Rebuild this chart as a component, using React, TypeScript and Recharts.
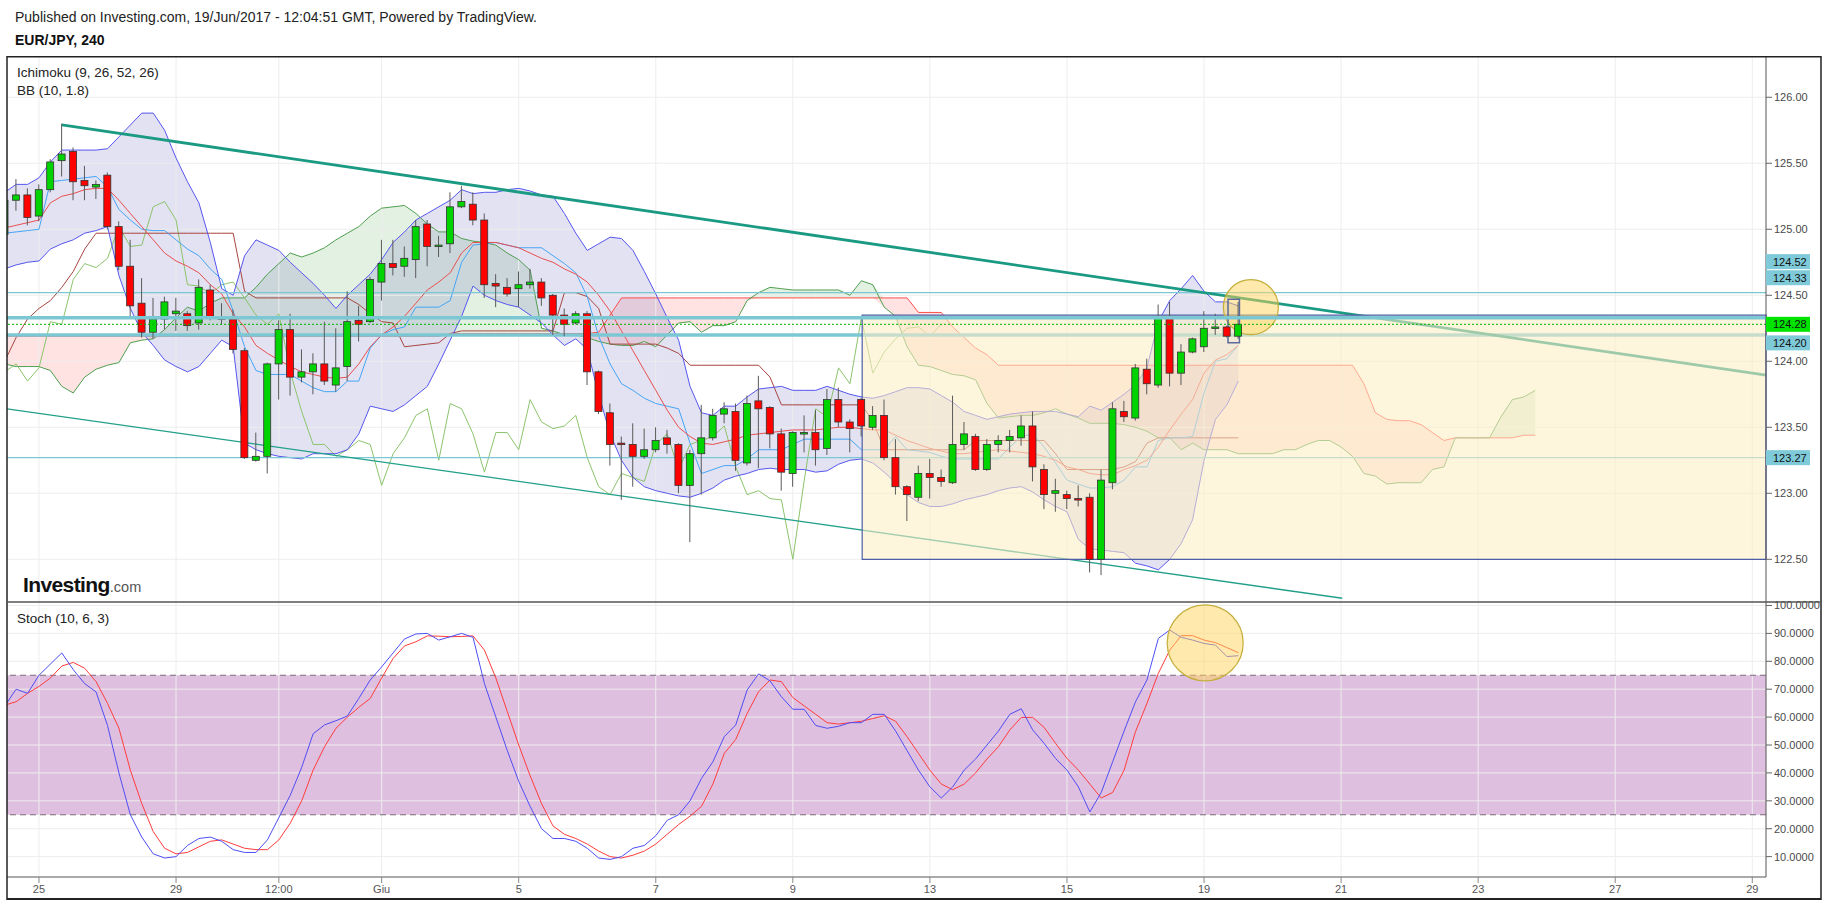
import React from 'react';
import {
  ComposedChart,
  Line,
  Area,
  Bar,
  XAxis,
  YAxis,
  ReferenceLine,
  ReferenceArea,
  ReferenceDot,
} from 'recharts';

// EUR/JPY, 240 — bar -3 = 24/05 12:00, bar 0 = 25/05 00:00, bar 105 = 19/06 12:00
const FIRST_BAR = -3;
const LAST_CLOUD_BAR = 131;

const opens = [
  124.96, 125.22, 125.26, 125.10, 125.30, 125.52, 125.59, 125.37, 125.32, 125.41,
  125.02, 124.72, 124.44, 124.22, 124.32, 124.36, 124.36, 124.29, 124.54, 124.33,
  124.32, 124.08, 123.25, 123.28, 123.98, 124.24, 123.88, 123.92, 123.98, 123.82,
  123.96, 124.31, 124.30, 124.60, 124.74, 124.72, 124.77, 125.04, 124.87, 124.89,
  125.17, 125.19, 125.07, 124.59, 124.56, 124.55, 124.58, 124.60, 124.50, 124.35,
  124.29, 124.36, 123.92, 123.61, 123.38, 123.37, 123.28, 123.33, 123.42, 123.37,
  123.06, 123.30, 123.42, 123.60, 123.62, 123.23, 123.70, 123.65, 123.45, 123.15,
  123.45, 123.46, 123.34, 123.71, 123.54, 123.71, 123.50, 123.59, 123.27, 123.05,
  122.97, 123.15, 123.12, 123.08, 123.37, 123.43, 123.18, 123.37, 123.40, 123.42,
  123.51, 123.18, 123.00, 122.99, 122.96, 122.97, 122.50, 123.08, 123.62, 123.57,
  123.94, 123.82, 124.33, 123.91, 124.07, 124.11, 124.25, 124.26, 124.19,
];
const highs = [
  125.25, 125.38, 125.31, 125.34, 125.53, 125.80, 125.62, 125.48, 125.37, 125.43,
  125.06, 124.92, 124.63, 124.48, 124.49, 124.48, 124.38, 124.62, 124.58, 124.44,
  124.39, 124.10, 123.46, 123.99, 124.31, 124.36, 124.09, 124.06, 124.30, 124.25,
  124.53, 124.42, 124.64, 124.92, 124.92, 124.87, 125.07, 125.07, 124.95, 125.28,
  125.33, 125.28, 125.12, 124.66, 124.63, 124.68, 124.70, 124.63, 124.51, 124.40,
  124.38, 124.38, 123.93, 123.68, 123.43, 123.53, 123.49, 123.50, 123.48, 123.38,
  123.33, 123.67, 123.64, 123.69, 123.68, 123.74, 123.89, 123.66, 123.49, 123.47,
  123.59, 123.63, 123.79, 123.80, 123.56, 123.72, 123.66, 123.71, 123.41, 123.06,
  123.21, 123.26, 123.18, 123.74, 123.54, 123.45, 123.41, 123.44, 123.48, 123.59,
  123.62, 123.22, 123.11, 123.02, 123.06, 123.00, 123.18, 123.69, 123.70, 123.98,
  124.02, 124.43, 124.45, 124.13, 124.18, 124.38, 124.36, 124.27, 124.45,
];
const lows = [
  124.93, 125.14, 125.03, 125.06, 125.28, 125.40, 125.22, 125.22, 125.23, 125.00,
  124.69, 124.34, 124.18, 124.17, 124.24, 124.23, 124.23, 124.24, 124.31, 124.28,
  124.06, 123.26, 123.24, 123.15, 123.71, 123.74, 123.84, 123.75, 123.82, 123.77,
  123.85, 124.15, 124.29, 124.46, 124.65, 124.64, 124.63, 124.72, 124.79, 124.82,
  125.16, 125.03, 124.48, 124.41, 124.49, 124.41, 124.55, 124.42, 124.20, 124.19,
  124.28, 123.82, 123.60, 123.21, 122.95, 123.05, 123.26, 123.31, 123.30, 123.00,
  122.63, 122.99, 123.40, 123.53, 123.17, 123.21, 123.19, 123.34, 123.02, 123.05,
  123.31, 123.21, 123.29, 123.50, 123.31, 123.43, 123.48, 123.25, 122.99, 122.79,
  122.94, 122.96, 123.05, 123.07, 123.33, 123.17, 123.17, 123.31, 123.31, 123.36,
  123.09, 122.88, 122.86, 122.88, 122.90, 122.40, 122.38, 123.03, 123.54, 123.55,
  123.75, 123.80, 123.81, 123.82, 124.06, 124.07, 124.20, 124.18, 124.17,
];
const closes = [
  125.22, 125.26, 125.09, 125.30, 125.51, 125.57, 125.36, 125.33, 125.34, 125.02,
  124.72, 124.42, 124.22, 124.32, 124.45, 124.38, 124.27, 124.56, 124.33, 124.32,
  124.09, 123.27, 123.28, 123.98, 124.24, 123.88, 123.92, 123.98, 123.85, 123.95,
  124.30, 124.28, 124.62, 124.74, 124.71, 124.78, 125.02, 124.87, 124.88, 125.17,
  125.21, 125.07, 124.58, 124.57, 124.51, 124.58, 124.60, 124.48, 124.35, 124.28,
  124.36, 123.92, 123.62, 123.37, 123.37, 123.28, 123.33, 123.40, 123.37, 123.06,
  123.30, 123.42, 123.59, 123.64, 123.25, 123.68, 123.64, 123.45, 123.16, 123.46,
  123.46, 123.33, 123.71, 123.54, 123.49, 123.51, 123.59, 123.27, 123.05, 122.99,
  123.15, 123.12, 123.09, 123.37, 123.45, 123.18, 123.37, 123.40, 123.43, 123.51,
  123.20, 122.99, 123.02, 122.96, 122.95, 122.50, 123.10, 123.64, 123.58, 123.95,
  123.83, 124.33, 123.91, 124.07, 124.17, 124.25, 124.26, 124.19, 124.28,
];

// BB (10, 1.8)
const bbUpper = [
  125.28, 125.34, 125.34, 125.39, 125.51, 125.60, 125.60, 125.60, 125.60, 125.61,
  125.70, 125.79, 125.88, 125.88, 125.75, 125.54, 125.36, 125.20, 124.90, 124.55,
  124.50, 124.80, 124.92, 124.88, 124.84, 124.75, 124.67, 124.59, 124.50, 124.40,
  124.50, 124.58, 124.66, 124.77, 124.90, 124.98, 125.07, 125.12, 125.17, 125.22,
  125.30, 125.27, 125.28, 125.28, 125.30, 125.31, 125.29, 125.26, 125.25, 125.12,
  124.97, 124.84, 124.89, 124.94, 124.93, 124.84, 124.68, 124.51, 124.33, 124.16,
  123.81, 123.61, 123.59, 123.66, 123.66, 123.73, 123.79, 123.80, 123.81, 123.78,
  123.78, 123.78, 123.81, 123.78, 123.75, 123.73, 123.72, 123.74, 123.77, 123.80,
  123.80, 123.79, 123.74, 123.69, 123.62, 123.59, 123.56, 123.58, 123.60, 123.61,
  123.62, 123.62, 123.62, 123.60, 123.58, 123.66, 123.63, 123.69, 123.75, 123.82,
  123.95, 124.30, 124.46, 124.55, 124.65, 124.53, 124.45, 124.45, 124.42,
];
const bbLower = [
  124.70, 124.73, 124.75, 124.76, 124.85, 124.89, 124.92, 124.97, 124.99, 125.02,
  124.65, 124.40, 124.22, 124.12, 124.01, 123.96, 123.92, 123.96, 124.06, 124.16,
  124.11, 123.38, 123.33, 123.30, 123.28, 123.27, 123.26, 123.30, 123.30, 123.30,
  123.33, 123.45, 123.66, 123.64, 123.62, 123.67, 123.74, 123.81, 123.98, 124.16,
  124.34, 124.57, 124.50, 124.46, 124.43, 124.41, 124.35, 124.29, 124.20, 124.12,
  124.17, 124.09, 123.75, 123.45, 123.25, 123.12, 123.05, 123.02, 123.00, 122.98,
  122.97, 123.00, 123.04, 123.10, 123.13, 123.15, 123.18, 123.19, 123.18, 123.18,
  123.18, 123.16, 123.17, 123.22, 123.25, 123.26, 123.23, 123.16, 123.08, 122.99,
  122.93, 122.90, 122.90, 122.92, 122.95, 122.97, 122.99, 123.02, 123.04, 123.05,
  123.01, 122.95, 122.90, 122.86, 122.65, 122.58, 122.57, 122.56, 122.55, 122.47,
  122.45, 122.42, 122.50, 122.62, 122.80, 123.25, 123.56, 123.67, 123.85,
];
const bbBasis = [
  125.01, 125.03, 125.05, 125.07, 125.20, 125.25, 125.27, 125.30, 125.31, 125.31,
  125.22, 125.12, 125.02, 124.92, 124.82, 124.76, 124.72, 124.67, 124.58, 124.51,
  124.36, 124.26, 124.12, 124.06, 124.01, 123.96, 123.92, 123.90, 123.88, 123.87,
  123.88, 123.98, 124.11, 124.20, 124.26, 124.34, 124.44, 124.54, 124.60, 124.67,
  124.82, 124.90, 124.90, 124.90, 124.88, 124.86, 124.82, 124.78, 124.75, 124.70,
  124.66, 124.60, 124.50, 124.38, 124.23, 124.08, 123.93, 123.78, 123.63, 123.50,
  123.43, 123.38, 123.37, 123.39, 123.41, 123.44, 123.45, 123.46, 123.47, 123.48,
  123.48, 123.48, 123.49, 123.50, 123.50, 123.49, 123.48, 123.48, 123.44, 123.40,
  123.37, 123.34, 123.32, 123.30, 123.30, 123.31, 123.32, 123.33, 123.32, 123.31,
  123.30, 123.28, 123.25, 123.20, 123.18, 123.15, 123.14, 123.14, 123.18, 123.21,
  123.25, 123.35, 123.48, 123.60, 123.71, 123.91, 124.01, 124.05, 124.12,
];

// Ichimoku (9, 26, 52, 26)
const tenkan = [
  124.97, 124.98, 124.99, 125.00, 125.36, 125.37, 125.38, 125.39, 125.40, 125.32,
  125.15, 125.07, 125.00, 124.99, 124.99, 124.92, 124.85, 124.80, 124.70, 124.62,
  124.38, 124.11, 123.93, 123.90, 123.90, 123.90, 123.85, 123.80, 123.77, 123.77,
  123.85, 123.85, 124.10, 124.20, 124.24, 124.26, 124.41, 124.41, 124.41, 124.46,
  124.75, 124.88, 124.89, 124.90, 124.88, 124.86, 124.86, 124.86, 124.80, 124.74,
  124.67, 124.49, 124.19, 123.98, 123.83, 123.78, 123.72, 123.68, 123.66, 123.64,
  123.38, 123.15, 123.18, 123.21, 123.21, 123.26, 123.33, 123.33, 123.33, 123.37,
  123.41, 123.41, 123.41, 123.41, 123.41, 123.33, 123.33, 123.33, 123.43, 123.33,
  123.32, 123.31, 123.28, 123.26, 123.26, 123.26, 123.26, 123.26, 123.35, 123.43,
  123.45, 123.35, 123.23, 123.10, 123.07, 123.04, 123.04, 123.05, 123.10, 123.20,
  123.20, 123.40, 123.42, 123.42, 123.43, 123.76, 124.00, 124.02, 124.12,
];
const kijun = [
  124.00, 124.18, 124.32, 124.40, 124.46, 124.56, 124.68, 124.85, 124.97, 124.97,
  124.97, 124.97, 124.97, 124.97, 124.97, 124.97, 124.97, 124.97, 124.97, 124.97,
  124.97, 124.53, 124.48, 124.48, 124.48, 124.48, 124.48, 124.48, 124.48, 124.48,
  124.48, 124.43, 124.36, 124.30, 124.29, 124.11, 124.12, 124.13, 124.14, 124.21,
  124.23, 124.23, 124.23, 124.23, 124.23, 124.23, 124.23, 124.23, 124.23, 124.52,
  124.52, 124.49, 124.40, 124.13, 124.13, 124.13, 124.13, 124.13, 124.10, 124.06,
  123.97, 123.97, 123.97, 123.97, 123.97, 123.97, 123.97, 123.88, 123.67, 123.67,
  123.67, 123.67, 123.67, 123.67, 123.67, 123.67, 123.55, 123.33, 123.33, 123.33,
  123.33, 123.33, 123.33, 123.33, 123.33, 123.40, 123.40, 123.40, 123.40, 123.40,
  123.40, 123.40, 123.30, 123.18, 123.18, 123.18, 123.18, 123.18, 123.20, 123.24,
  123.38, 123.42, 123.42, 123.42, 123.42, 123.42, 123.42, 123.42, 123.42,
];
// lagging span, drawn from bar -3 to bar 79
const chikou = [
  123.92, 123.98, 123.85, 123.95, 124.30, 124.28, 124.62, 124.74, 124.71, 124.78,
  125.02, 124.87, 124.88, 125.17, 125.21, 125.07, 124.58, 124.57, 124.51, 124.58,
  124.60, 124.48, 124.35, 124.28, 124.36, 123.92, 123.62, 123.37, 123.37, 123.28,
  123.33, 123.40, 123.37, 123.06, 123.30, 123.42, 123.59, 123.64, 123.25, 123.68,
  123.64, 123.45, 123.16, 123.46, 123.46, 123.33, 123.71, 123.54, 123.49, 123.51,
  123.59, 123.27, 123.05, 122.99, 123.15, 123.12, 123.09, 123.37, 123.45, 123.18,
  123.37, 123.40, 123.43, 123.51, 123.20, 122.99, 123.02, 122.96, 122.95, 122.50,
  123.10, 123.64, 123.58, 123.95, 123.83, 124.33, 123.91, 124.07, 124.17, 124.25,
  124.26, 124.19, 124.28,
];
// leading spans, drawn from bar -3 to bar 131
const senkouA = [
  123.98, 123.96, 123.96, 123.96, 123.93, 123.81, 123.76, 123.88, 123.94, 123.97,
  123.99, 124.14, 124.16, 124.17, 124.24, 124.33, 124.41, 124.38, 124.44, 124.48,
  124.48, 124.48, 124.56, 124.66, 124.74, 124.82, 124.79, 124.82, 124.86, 124.92,
  124.97, 125.02, 125.10, 125.16, 125.17, 125.18, 125.12, 125.04, 124.98, 124.98,
  124.93, 124.91, 124.90, 124.88, 124.82, 124.77, 124.69, 124.25, 124.23, 124.20,
  124.20, 124.18, 124.15, 124.13, 124.12, 124.12, 124.15, 124.11, 124.20, 124.29,
  124.30, 124.22, 124.27, 124.27, 124.30, 124.46, 124.52, 124.56, 124.55, 124.54,
  124.54, 124.54, 124.54, 124.54, 124.50, 124.61, 124.58, 124.41, 124.34, 124.11,
  123.97, 123.96, 123.93, 123.90, 123.89, 123.86, 123.68, 123.57, 123.58, 123.59,
  123.59, 123.61, 123.64, 123.60, 123.57, 123.53, 123.53, 123.53, 123.52, 123.50,
  123.47, 123.42, 123.42, 123.33, 123.38, 123.33, 123.33, 123.33, 123.30, 123.30,
  123.30, 123.30, 123.33, 123.33, 123.37, 123.40, 123.40, 123.35, 123.28, 123.15,
  123.13, 123.07, 123.08, 123.08, 123.08, 123.18, 123.20, 123.42, 123.42, 123.42,
  123.42, 123.58, 123.71, 123.73, 123.78,
];
const senkouB = [
  124.19, 124.19, 124.19, 124.19, 124.19, 124.19, 124.19, 124.19, 124.19, 124.19,
  124.19, 124.19, 124.19, 124.19, 124.19, 124.19, 124.19, 124.19, 124.19, 124.19,
  124.19, 124.19, 124.19, 124.19, 124.19, 124.19, 124.19, 124.19, 124.19, 124.19,
  124.19, 124.19, 124.19, 124.19, 124.19, 124.19, 124.19, 124.19, 124.19, 124.21,
  124.21, 124.21, 124.21, 124.21, 124.21, 124.21, 124.21, 124.21, 124.21, 124.21,
  124.21, 124.21, 124.22, 124.35, 124.48, 124.48, 124.48, 124.48, 124.48, 124.48,
  124.48, 124.48, 124.48, 124.48, 124.48, 124.48, 124.48, 124.48, 124.48, 124.48,
  124.48, 124.48, 124.48, 124.48, 124.48, 124.48, 124.48, 124.48, 124.48, 124.48,
  124.37, 124.37, 124.37, 124.26, 124.18, 124.10, 124.05, 123.97, 123.97, 123.97,
  123.97, 123.97, 123.97, 123.97, 123.97, 123.97, 123.97, 123.97, 123.97, 123.97,
  123.97, 123.97, 123.97, 123.97, 123.97, 123.97, 123.97, 123.97, 123.97, 123.97,
  123.97, 123.97, 123.97, 123.97, 123.97, 123.97, 123.97, 123.97, 123.97, 123.83,
  123.61, 123.56, 123.55, 123.55, 123.52, 123.46, 123.40, 123.42, 123.42, 123.42,
  123.42, 123.42, 123.42, 123.44, 123.44,
];

// Stoch (10, 6, 3)
const stochK = [
  64, 70, 68.5, 75, 79, 83, 77, 72, 69, 57,
  40, 25, 17, 11, 9.5, 10, 14, 16.5, 17, 15.5,
  12.5, 11.5, 11.5, 16, 24, 32, 42, 54, 57.2, 58.7,
  60.4, 66.7, 73.3, 78, 83, 88, 89.8, 90, 87.6, 88.8,
  90, 88.6, 72, 60, 48, 37, 28, 20, 16.5, 16.5,
  15.5, 13, 9.5, 9, 10, 13, 14, 17.5, 23, 25,
  30, 38, 44, 53, 57.2, 69.7, 75.5, 73, 67.3, 62.8,
  62.8, 57, 56, 56.7, 58, 58, 61, 61, 55, 48,
  41, 35, 31, 35, 41, 45, 50, 55, 61, 63,
  55.4, 50.6, 45.2, 41, 35, 26, 33, 44, 55, 65.5,
  73.3, 88.2, 91.2, 88.6, 87.6, 86.4, 85.8, 81.7, 82,
];
const stochD = [
  64.3, 65.5, 68.5, 71, 74, 78.3, 79.6, 77.5, 72.7, 64.9,
  56, 41, 29, 19, 13, 11, 11.5, 13.5, 15.5, 16,
  14.5, 13, 12.5, 12.5, 16, 22, 30, 41, 49.4, 56,
  60, 63.5, 66.7, 74, 81, 85.5, 87, 89.1, 89, 88.8,
  88.9, 89.1, 84, 74, 62, 50, 39, 29, 21, 18,
  16.5, 14.5, 12, 10, 9.5, 10.5, 12, 14.5, 18, 21.5,
  24.5, 28, 36, 47, 52, 61.3, 69.1, 73.3, 72.7, 67,
  64, 61, 58, 57.5, 58, 58.5, 59.5, 60.5, 58.5, 53,
  47, 41, 36, 34, 36, 40, 45, 49.4, 55.4, 59.9,
  59.9, 56.3, 50.6, 45.2, 41, 36, 31, 33, 41, 54.8,
  64.9, 75.7, 84, 89.2, 89.2, 87.6, 86.7, 84.9, 83.1,
];

const xTickBars = [0, 12, 21, 30, 42, 54, 66, 78, 90, 102, 114, 126, 138, 150];
const xTickLabels = ['25', '29', '12:00', 'Giu', '5', '7', '9', '13', '15', '19', '21', '23', '27', '29'];
const priceTicks = [122.5, 123, 123.5, 124, 124.5, 125, 125.5, 126];
const stochTicks = [10, 20, 30, 40, 50, 60, 70, 80, 90, 100];

// drawings
const supportLevels = [124.52, 124.2, 123.27];
const resistanceLevel = 124.33;
const lastPrice = 124.28;
const upperTrend = [{ x: 2, y: 125.79 }, { x: 151.2, y: 123.895 }];
const lowerTrend = [{ x: -2.8, y: 123.64 }, { x: 114.1, y: 122.205 }];
const boxBars = [72.07, 151.2];
const boxPrices = [122.5, 124.35];
const markBars = [104.1, 105.1];
const markPrices = [124.14, 124.47];
const priceCircle = { x: 106.1, y: 124.41 };
const stochCircle = { x: 102.1, y: 86.6 };

const tagPrices = [124.52, 124.33, 124.28, 124.2, 123.27];
const tagColors = ['#7fcad8', '#7fcad8', '#00e400', '#7fcad8', '#7fcad8'];
const tagShift = [-31, -40, 0, 8, 0];

const X_DOMAIN: [number, number] = [-2.8, 151.2];
const PRICE_DOMAIN: [number, number] = [122.1765, 126.305];
const STOCH_DOMAIN: [number, number] = [2.7, 101.25];

const FONT = '"Liberation Sans", Arial, Helvetica, sans-serif';
const CHART_W = 1814;
const AXIS_W = 55;
const PRICE_H = 545;
const STOCH_PAD = 10;
const STOCH_H = 297 + STOCH_PAD;

const rows: any[] = [];
for (let k = 0; k <= LAST_CLOUD_BAR - FIRST_BAR; k++) {
  const bar = k < opens.length;
  const a = senkouA[k];
  const b = senkouB[k];
  rows.push({
    i: k + FIRST_BAR,
    open: bar ? opens[k] : null,
    high: bar ? highs[k] : null,
    low: bar ? lows[k] : null,
    close: bar ? closes[k] : null,
    hl: bar ? [lows[k], highs[k]] : null,
    bbU: bar ? bbUpper[k] : null,
    bbL: bar ? bbLower[k] : null,
    bbM: bar ? bbBasis[k] : null,
    bbBand: bar ? [bbLower[k], bbUpper[k]] : null,
    tenkan: bar ? tenkan[k] : null,
    kijun: bar ? kijun[k] : null,
    chikou: k < chikou.length ? chikou[k] : null,
    sa: a,
    sb: b,
    cloudUp: [b, Math.max(a, b)],
    cloudDown: [Math.min(a, b), b],
    k: bar ? stochK[k] : null,
    d: bar ? stochD[k] : null,
  });
}

const Candle = (props: any) => {
  const { x, y, width, height, payload } = props;
  if (!payload || payload.open == null) return null;
  const { open, close, high, low } = payload;
  const top = Math.min(y, y + height);
  const bottom = Math.max(y, y + height);
  const k = (bottom - top) / (high - low);
  const yOf = (p: number) => top + (high - p) * k;
  const cx = x + width / 2;
  const bTop = yOf(Math.max(open, close));
  const bBot = yOf(Math.min(open, close));
  const up = close > open;
  return (
    <g>
      <line x1={cx} x2={cx} y1={top} y2={bottom} stroke="#5a5a5a" strokeWidth={1} />
      <rect
        x={cx - 3.5}
        y={bTop}
        width={7}
        height={Math.max(1.5, bBot - bTop)}
        fill={up ? '#00d400' : '#ff0000'}
        stroke="#333"
        strokeWidth={0.8}
      />
    </g>
  );
};

const Tag = (props: any) => {
  const { cx, cy, text, bg, shift } = props;
  const y = cy + shift;
  return (
    <g>
      <rect x={cx} y={y - 7.5} width={44} height={15} fill={bg} />
      <text x={cx + 7} y={y + 4} fontSize={11} fontFamily={FONT} fill="#111">
        {text}
      </text>
    </g>
  );
};

const priceAxes = (show: boolean) => [
  <XAxis key="px" type="number" dataKey="i" domain={X_DOMAIN} allowDataOverflow hide />,
  <YAxis
    key="py"
    type="number"
    orientation="right"
    width={AXIS_W}
    domain={PRICE_DOMAIN}
    allowDataOverflow
    ticks={priceTicks}
    interval={0}
    tick={show ? { fontSize: 11, fill: '#4a4a4a', fontFamily: FONT } : false}
    tickLine={show ? { stroke: '#666' } : false}
    axisLine={show ? { stroke: '#555' } : false}
    tickFormatter={(v: number) => v.toFixed(2)}
  />,
];

const stochAxes = (show: boolean) => [
  <XAxis
    key="sx"
    type="number"
    dataKey="i"
    domain={X_DOMAIN}
    allowDataOverflow
    height={22}
    ticks={xTickBars}
    interval={0}
    tick={show ? { fontSize: 11, fill: '#555', fontFamily: FONT } : false}
    tickLine={show ? { stroke: '#888' } : false}
    axisLine={show ? { stroke: '#555' } : false}
    tickFormatter={(v: number) => xTickLabels[xTickBars.indexOf(v)] ?? ''}
  />,
  <YAxis
    key="sy"
    type="number"
    orientation="right"
    width={AXIS_W}
    domain={STOCH_DOMAIN}
    allowDataOverflow
    ticks={stochTicks}
    interval={0}
    tick={show ? { fontSize: 11, fill: '#4a4a4a', fontFamily: FONT } : false}
    tickLine={show ? { stroke: '#666' } : false}
    axisLine={show ? { stroke: '#555' } : false}
    tickFormatter={(v: number) => v.toFixed(4)}
  />,
];

const margin = { top: 0, right: 0, bottom: 0, left: 0 };
const stochMargin = { top: STOCH_PAD, right: 0, bottom: 0, left: 0 };
const layer = (top: number): React.CSSProperties => ({ position: 'absolute', left: 7, top });
const lineProps = { dot: false, activeDot: false, isAnimationActive: false, strokeWidth: 1 } as const;

export default function App() {
  return (
    <div style={{ position: 'absolute', left: 0, top: 0, width: 1828, height: 901, background: '#fff', fontFamily: FONT, overflow: 'hidden' }}>
      {/* price: grid, cloud, bands, indicator lines */}
      <div style={layer(57)}>
        <ComposedChart width={CHART_W} height={PRICE_H} data={rows} margin={margin}>
          {priceAxes(false)}
          {priceTicks.map((p) => (
            <ReferenceLine key={'hg' + p} y={p} stroke="#ededed" strokeWidth={1} />
          ))}
          {xTickBars.map((b) => (
            <ReferenceLine key={'vg' + b} x={b} stroke="#ededed" strokeWidth={1} />
          ))}
          <Area dataKey="cloudUp" stroke="none" fill="#7fbf7f" fillOpacity={0.22} isAnimationActive={false} />
          <Area dataKey="cloudDown" stroke="none" fill="#ff8080" fillOpacity={0.22} isAnimationActive={false} />
          <Area dataKey="bbBand" stroke="none" fill="#7070c0" fillOpacity={0.2} isAnimationActive={false} />
          <Line dataKey="sb" stroke="#ff4b4b" {...lineProps} />
          <Line dataKey="sa" stroke="#4f9f4f" {...lineProps} />
          <Line dataKey="chikou" stroke="#8cc46c" {...lineProps} />
          <Line dataKey="kijun" stroke="#a8453f" {...lineProps} />
          <Line dataKey="tenkan" stroke="#45a5f5" {...lineProps} />
          <Line dataKey="bbM" stroke="#e85050" {...lineProps} />
          <Line dataKey="bbU" stroke="#5656f0" {...lineProps} />
          <Line dataKey="bbL" stroke="#5656f0" {...lineProps} />
          {supportLevels.map((p) => (
            <ReferenceLine key={'lv' + p} y={p} stroke="#7cc7d4" strokeWidth={p === 124.2 ? 3.5 : 1.3} />
          ))}
          <ReferenceLine segment={upperTrend} stroke="#1b9a83" strokeWidth={2.8} />
          <ReferenceLine segment={lowerTrend} stroke="#22a08a" strokeWidth={1.3} />
        </ComposedChart>
      </div>

      {/* price: range box */}
      <div style={layer(57)}>
        <ComposedChart width={CHART_W} height={PRICE_H} data={rows} margin={margin}>
          {priceAxes(false)}
          <ReferenceArea
            x1={boxBars[0]}
            x2={boxBars[1]}
            y1={boxPrices[0]}
            y2={boxPrices[1]}
            fill="#fdeec4"
            fillOpacity={0.58}
            stroke="#4b5ea6"
            strokeWidth={1.2}
          />
          <ReferenceDot
            x={priceCircle.x}
            y={priceCircle.y}
            r={27.5}
            fill="#ffd45a"
            fillOpacity={0.5}
            stroke="#c4ae3a"
            strokeWidth={1.2}
          />
        </ComposedChart>
      </div>

      {/* price: candles, last price, labels */}
      <div style={layer(57)}>
        <ComposedChart width={CHART_W} height={PRICE_H} data={rows} margin={margin}>
          {priceAxes(true)}
          <ReferenceLine y={resistanceLevel} stroke="#7cc7d4" strokeWidth={3.5} />
          <Bar dataKey="hl" barSize={9} isAnimationActive={false} shape={(p: any) => <Candle {...p} />} />
          <ReferenceLine y={lastPrice} stroke="#00b400" strokeWidth={1} strokeDasharray="2 2" />
          <ReferenceArea
            x1={markBars[0]}
            x2={markBars[1]}
            y1={markPrices[0]}
            y2={markPrices[1]}
            fill="#ffffff"
            fillOpacity={0}
            stroke="#5a6a9a"
            strokeWidth={1.5}
          />
          {tagPrices.map((p, n) => (
            <ReferenceDot
              key={'tag' + p}
              x={X_DOMAIN[1]}
              y={p}
              r={1}
              shape={(s: any) => (
                <Tag cx={s.cx} cy={s.cy} text={p.toFixed(2)} bg={tagColors[n]} shift={tagShift[n]} />
              )}
            />
          ))}
        </ComposedChart>
      </div>

      {/* stoch: grid and band */}
      <div style={layer(602 - STOCH_PAD)}>
        <ComposedChart width={CHART_W} height={STOCH_H} data={rows} margin={stochMargin}>
          {stochAxes(false)}
          {stochTicks.map((v) => (
            <ReferenceLine key={'sg' + v} y={v} stroke="#ededed" strokeWidth={1} />
          ))}
          {xTickBars.map((b) => (
            <ReferenceLine key={'svg' + b} x={b} stroke="#ededed" strokeWidth={1} />
          ))}
          <ReferenceArea y1={25} y2={75} fill="#c080c0" fillOpacity={0.5} stroke="none" />
          <ReferenceLine y={75} stroke="#7a6a7a" strokeDasharray="6 4" strokeWidth={1} />
          <ReferenceLine y={25} stroke="#7a6a7a" strokeDasharray="6 4" strokeWidth={1} />
        </ComposedChart>
      </div>

      {/* stoch: lines */}
      <div style={layer(602 - STOCH_PAD)}>
        <ComposedChart width={CHART_W} height={STOCH_H} data={rows} margin={stochMargin}>
          {stochAxes(true)}
          <Line dataKey="d" stroke="#ff3c3c" {...lineProps} />
          <Line dataKey="k" stroke="#4e4ef5" {...lineProps} />
          <ReferenceDot
            x={stochCircle.x}
            y={stochCircle.y}
            r={38}
            fill="#ffd45a"
            fillOpacity={0.5}
            stroke="#c4ae3a"
            strokeWidth={1.2}
          />
        </ComposedChart>
      </div>

      {/* frame and texts */}
      <svg width={1828} height={901} style={{ position: 'absolute', left: 0, top: 0, pointerEvents: 'none' }}>
        <line x1={7} y1={56.75} x2={1821} y2={56.75} stroke="#222" strokeWidth={1.5} />
        <line x1={7} y1={56} x2={7} y2={900} stroke="#222" strokeWidth={1.5} />
        <line x1={1821} y1={56} x2={1821} y2={900} stroke="#222" strokeWidth={1.5} />
        <line x1={7} y1={899} x2={1821} y2={899} stroke="#222" strokeWidth={2} />
        <line x1={7} y1={602} x2={1821} y2={602} stroke="#555" strokeWidth={1.5} />
        <text x={15} y={22} fontSize={14} fill="#222" fontFamily={FONT}>
          Published on Investing.com, 19/Jun/2017 - 12:04:51 GMT, Powered by TradingView.
        </text>
        <text x={15} y={45} fontSize={14} fontWeight="bold" fill="#111" fontFamily={FONT}>
          EUR/JPY, 240
        </text>
        <text x={17} y={77} fontSize={13.5} fill="#222" fontFamily={FONT}>
          Ichimoku (9, 26, 52, 26)
        </text>
        <text x={17} y={95} fontSize={13.5} fill="#222" fontFamily={FONT}>
          BB (10, 1.8)
        </text>
        <text x={17} y={623} fontSize={13.5} fill="#222" fontFamily={FONT}>
          Stoch (10, 6, 3)
        </text>
        <text x={23} y={592} fontFamily={FONT}>
          <tspan fontSize={21} fontWeight="bold" fill="#111" letterSpacing={-0.6}>
            Investing
          </tspan>
          <tspan fontSize={14.5} fill="#555">
            .com
          </tspan>
        </text>
      </svg>
    </div>
  );
}
